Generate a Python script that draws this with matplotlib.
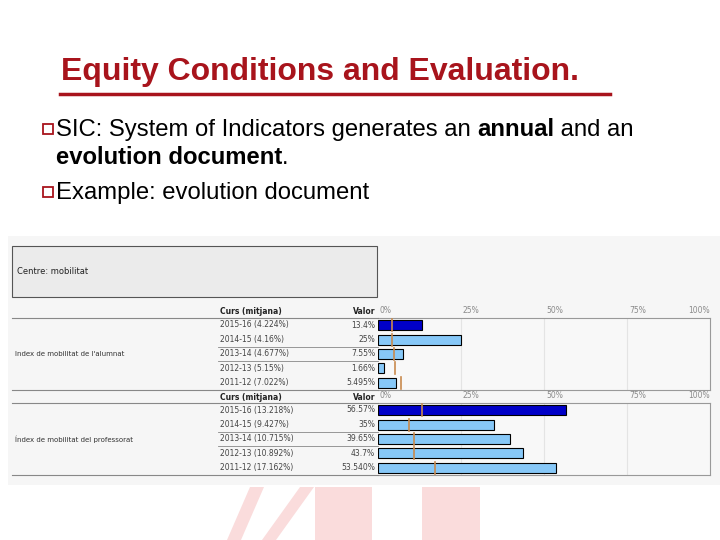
import matplotlib
matplotlib.use("Agg")
import matplotlib.pyplot as plt
from matplotlib.patches import Rectangle, Polygon
from matplotlib.lines import Line2D

W, H = 720, 540

# data
courses = ["2015-16", "2014-15", "2013-14", "2012-13", "2011-12"]
alumnat_val = [13.4, 25, 7.55, 1.66, 5.495]
alumnat_avg = [4.224, 4.16, 4.677, 5.15, 7.022]
alumnat_txt = ["13.4%", "25%", "7.55%", "1.66%", "5.495%"]
prof_val = [56.57, 35, 39.65, 43.7, 53.54]
prof_avg = [13.218, 9.427, 10.715, 10.892, 17.162]
prof_txt = ["56.57%", "35%", "39.65%", "43.7%", "53.540%"]
tick_vals = [0, 25, 50, 75, 100]

RED = "#a8141c"
DARK = "#0000c8"
LIGHT = "#87c8f8"
MARK = "#c98a4e"


def fx(x):
    return x / W


def fy(y):
    return 1 - y / H


fig = plt.figure(figsize=(7.2, 5.4), dpi=100)
fig.patch.set_facecolor("white")
plt.rcParams["font.family"] = ["Liberation Sans", "DejaVu Sans"]

# faint watermark at the bottom
for (x0, x1) in [(315, 372), (422, 480)]:
    fig.patches.append(Rectangle((fx(x0), 0), fx(x1 - x0), fy(487), transform=fig.transFigure,
                                 facecolor="#fadcdc", edgecolor="none", zorder=-3))
for (xa, xb) in [(227, 250), (262, 300)]:
    fig.patches.append(Polygon([(fx(xa), 0), (fx(xa + 14), 0), (fx(xb + 14), fy(487)), (fx(xb), fy(487))],
                               transform=fig.transFigure, facecolor="#fadcdc", edgecolor="none", zorder=-3))

# title
fig.text(fx(61), fy(72), "Equity Conditions and Evaluation.", color=RED, fontsize=23,
         fontweight="bold", va="center", ha="left")
fig.add_artist(Line2D([fx(60), fx(610)], [fy(94), fy(94)], color=RED, lw=2.5))

fig.canvas.draw()
rend = fig.canvas.get_renderer()


def runs(x, y, parts, size=17.2):
    for txt, bold in parts:
        t = fig.text(fx(x), fy(y), txt, fontsize=size, va="center", ha="left",
                     fontweight="bold" if bold else "normal", color="black")
        bb = t.get_window_extent(renderer=rend)
        x += bb.width


def box(x, y):
    fig.patches.append(Rectangle((fx(x), fy(y + 10)), fx(10), 10 / H, transform=fig.transFigure,
                                 facecolor="none", edgecolor=RED, lw=1.3))


box(43, 124)
runs(56, 130, [("SIC: System of Indicators generates an ", False), ("annual", True), (" and an", False)])
runs(56, 158, [("evolution document", True), (".", False)])
box(43, 187)
runs(56, 193, [("Example: evolution document", False)])

# embedded report background
fig.patches.append(Rectangle((fx(8), fy(485)), fx(712), (485 - 236) / H, transform=fig.transFigure,
                             facecolor="#f6f6f6", edgecolor="none", zorder=-2))
fig.patches.append(Rectangle((fx(12), fy(297)), fx(365), 51 / H, transform=fig.transFigure,
                             facecolor="#ebebeb", edgecolor="#555555", lw=0.8, zorder=-1))
fig.text(fx(17), fy(272), "Centre: mobilitat", fontsize=6, color="#222222", va="center",
         family="DejaVu Sans")


def panel(top, label, vals, avgs, vtxt):
    bottom = top + 72
    ax = fig.add_axes([fx(378), fy(bottom), fx(332), 72 / H])
    ax.set_facecolor("#f8f8f8")
    rows = list(range(len(vals)))
    colors = [DARK] + [LIGHT] * (len(vals) - 1)
    ax.barh(rows, vals, height=0.7, color=colors, edgecolor="black", lw=0.8, zorder=3)
    for r, a in zip(rows, avgs):
        ax.plot([a, a], [r - 0.42, r + 0.42], color=MARK, lw=1.2, zorder=4)
    ax.set_xlim(0, 100)
    ax.set_ylim(len(vals) - 0.5, -0.5)
    ax.set_xticks([])
    ax.set_yticks([])
    for t in tick_vals[1:-1]:
        ax.axvline(t, color="#e4e4e4", lw=0.8, zorder=1)
    for s in ["top", "right", "bottom"]:
        ax.spines[s].set_color("#999999")
    ax.spines["left"].set_visible(False)
    for t in tick_vals:
        ha = "right" if t == 100 else "left"
        ax.text(t + (0 if t == 100 else 0.6), 1.04, f"{t}%", transform=ax.get_xaxis_transform(),
                fontsize=5.5, color="#8a8a8a", ha=ha, va="bottom", family="DejaVu Sans")
    # table part
    hy = top - 6
    fig.text(fx(220), fy(hy), "Curs (mitjana)", fontsize=5.5, fontweight="bold", color="#222222",
             va="center", family="DejaVu Sans")
    fig.text(fx(375), fy(hy), "Valor", fontsize=5.5, fontweight="bold", color="#222222",
             va="center", ha="right", family="DejaVu Sans")
    fig.add_artist(Line2D([fx(12), fx(378)], [fy(top), fy(top)], color="#888888", lw=0.8))
    for i, (c, a, v) in enumerate(zip(courses, avgs, vtxt)):
        ry = top + 7 + i * 14.4
        fig.text(fx(220), fy(ry), f"{c} ({a}%)", fontsize=5.5, color="#444444", va="center",
                 family="DejaVu Sans")
        fig.text(fx(375), fy(ry), v, fontsize=5.5, color="#444444", va="center", ha="right",
                 family="DejaVu Sans")
        if i in (1, 2):
            ly = top + (i + 1) * 14.4
            fig.add_artist(Line2D([fx(218), fx(378)], [fy(ly), fy(ly)], color="#888888", lw=0.6))
    fig.add_artist(Line2D([fx(12), fx(378)], [fy(bottom), fy(bottom)], color="#888888", lw=0.8))
    fig.text(fx(15), fy(top + 36), label, fontsize=5, color="#333333", va="center",
             family="DejaVu Sans")


panel(318, "Index de mobilitat de l'alumnat", alumnat_val, alumnat_avg, alumnat_txt)
panel(403, "Índex de mobilitat del professorat", prof_val, prof_avg, prof_txt)

fig.savefig("out.png", dpi=100)
